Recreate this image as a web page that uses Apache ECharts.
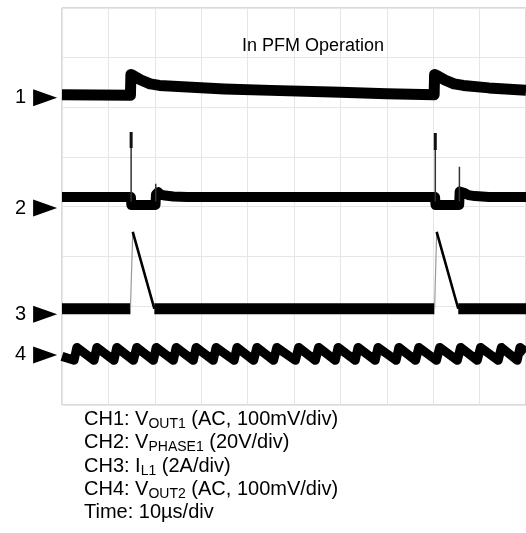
<!DOCTYPE html>
<html><head><meta charset="utf-8">
<script src="https://cdn.jsdelivr.net/npm/echarts@6/dist/echarts.min.js"></script>
<style>html,body{margin:0;padding:0;background:#fff}#c{width:526px;height:533px}</style>
</head><body><div id="c"></div>
<script>
// Time in µs (10 µs/div); level in screen divisions (0 = bottom, 8 = top)
const xTicks = [0, 100, 10];
const yTicks = [0, 8, 1];

const ch1Time  = [0, 14.75, 14.85, 15.5, 17, 19, 21, 25, 35, 45, 60, 70, 80.2, 80.3, 81, 82.5, 84.5, 86.5, 92, 100];
const ch1Level = [6.25, 6.24, 6.66, 6.63, 6.55, 6.47, 6.44, 6.42, 6.37, 6.34, 6.30, 6.27, 6.25, 6.66, 6.63, 6.55, 6.47, 6.44, 6.39, 6.34];

const ch2Time  = [0, 14.85, 14.95, 20.15, 20.25, 20.7, 21.3, 22.2, 24, 27, 80.4, 80.5, 85.6, 85.7, 86.1, 86.8, 87.6, 89, 92, 100];
const ch2Level = [4.19, 4.19, 4.03, 4.03, 4.24, 4.29, 4.24, 4.22, 4.20, 4.19, 4.19, 4.03, 4.03, 4.30, 4.34, 4.27, 4.23, 4.21, 4.19, 4.19];
const ch2SpikeTime = [14.9, 20.2, 80.45, 85.65];
const ch2SpikeBase = [4.10, 4.10, 4.10, 4.10];
const ch2SpikeTop  = [5.50, 4.46, 5.48, 4.80];
const ch2HeadTime   = [14.9, 80.45];
const ch2HeadBottom = [5.18, 5.14];
const ch2HeadTop    = [5.50, 5.48];

const ch3BaseTime  = [0, 14.75, 14.75, 19.9, 80.25, 80.25, 85.4, 100];
const ch3BaseLevel = [1.94, 1.94, null, 1.94, 1.94, null, 1.94, 1.94];
const ch3RiseTime  = [14.75, 15.25, 15.25, 80.3, 80.75];
const ch3RiseLevel = [1.94, 3.49, null, 1.94, 3.49];
const ch3FallTime  = [15.25, 19.9, 19.9, 80.75, 85.4];
const ch3FallLevel = [3.49, 1.94, null, 3.49, 1.94];

const ch4Time = [0, 2.6, 3.2, 6.9, 7.5, 11.2, 11.8, 15.4, 16.1, 19.7, 20.3, 24.0, 24.6, 28.3, 28.9, 32.6, 33.2,
  37.1, 37.7, 41.3, 42.0, 45.6, 46.3, 50.3, 51.0, 54.6, 55.3, 58.9, 59.5, 63.2, 63.8, 67.5, 68.1,
  72.0, 72.6, 76.2, 76.9, 80.7, 81.4, 85.2, 85.9, 89.5, 90.2, 94.0, 94.7, 98.1, 98.7, 100];
const ch4Level = [0.98, 0.90, 1.16, 0.90, 1.16, 0.90, 1.16, 0.90, 1.16, 0.90, 1.16, 0.90, 1.16, 0.90, 1.16, 0.90, 1.16,
  0.90, 1.16, 0.90, 1.16, 0.90, 1.16, 0.90, 1.16, 0.90, 1.16, 0.90, 1.16, 0.90, 1.16, 0.90, 1.16,
  0.90, 1.16, 0.90, 1.16, 0.90, 1.16, 0.90, 1.16, 0.90, 1.16, 0.90, 1.16, 0.90, 1.16, 1.07];

const markerLabel = ['1', '2', '3', '4'];
const markerLevel = [6.19, 3.97, 1.83, 1.01];
const markerTime = -3.64;

const annotation = 'In PFM Operation';
const legendHead = ['CH1: V', 'CH2: V', 'CH3: I', 'CH4: V'];
const legendSub  = ['OUT1', 'PHASE1', 'L1', 'OUT2'];
const legendTail = [' (AC, 100mV/div)', ' (20V/div)', ' (2A/div)', ' (AC, 100mV/div)'];
const timeLine = 'Time: 10µs/div';

const FONT = '"Liberation Sans", Arial, Helvetica, sans-serif';
const zip = (a, b) => a.map((v, i) => [v, b[i]]);

function spikes(t, lo, hi) {
  const out = [];
  t.forEach((v, i) => { out.push([v, lo[i]], [v, hi[i]], [v, null]); });
  return out;
}

const legendText = legendHead.map((h, i) => h + '{s|' + legendSub[i] + '}' + legendTail[i]).concat([timeLine]).join('\n');

const lineBase = { type: 'line', symbol: 'none', showSymbol: false, silent: true, animation: false, connectNulls: false };
const ls = (w, c) => ({ width: w, color: c, cap: 'butt', join: 'round', opacity: 1 });

const option = {
  animation: false,
  backgroundColor: '#fff',
  title: [
    { text: annotation, left: 242, top: 37, padding: 0,
      textStyle: { fontSize: 18, fontWeight: 'normal', color: '#000', fontFamily: FONT, lineHeight: 18 } },
    { text: legendText, left: 84, top: 408, padding: 0,
      textStyle: { fontSize: 20, fontWeight: 'normal', color: '#000', fontFamily: FONT, lineHeight: 23.25,
        rich: { s: { fontSize: 14, lineHeight: 8, verticalAlign: 'bottom', color: '#000', fontFamily: FONT } } } }
  ],
  grid: { left: 62, top: 8, width: 467, height: 397, show: true, borderColor: '#b4b4b4', borderWidth: 1, backgroundColor: '#fff' },
  xAxis: { type: 'value', min: xTicks[0], max: xTicks[1], interval: xTicks[2],
    axisLabel: { show: false }, axisTick: { show: false }, axisLine: { show: false },
    splitLine: { show: true, lineStyle: { color: '#e6e6e6', width: 1 } } },
  yAxis: { type: 'value', min: yTicks[0], max: yTicks[1], interval: yTicks[2],
    axisLabel: { show: false }, axisTick: { show: false }, axisLine: { show: false },
    splitLine: { show: true, lineStyle: { color: '#e6e6e6', width: 1 } } },
  series: [
    Object.assign({}, lineBase, { name: 'CH1', data: zip(ch1Time, ch1Level), lineStyle: ls(11, '#000') }),
    Object.assign({}, lineBase, { name: 'CH2', data: zip(ch2Time, ch2Level), lineStyle: ls(10, '#000') }),
    Object.assign({}, lineBase, { name: 'CH2 spikes', data: spikes(ch2SpikeTime, ch2SpikeBase, ch2SpikeTop), lineStyle: ls(1.5, '#333') }),
    Object.assign({}, lineBase, { name: 'CH2 heads', data: spikes(ch2HeadTime, ch2HeadBottom, ch2HeadTop), lineStyle: ls(3, '#111') }),
    Object.assign({}, lineBase, { name: 'CH3', data: zip(ch3BaseTime, ch3BaseLevel), lineStyle: ls(11, '#000') }),
    Object.assign({}, lineBase, { name: 'CH3 rise', data: zip(ch3RiseTime, ch3RiseLevel), lineStyle: ls(1.2, '#999') }),
    Object.assign({}, lineBase, { name: 'CH3 fall', data: zip(ch3FallTime, ch3FallLevel), lineStyle: ls(2.6, '#000') }),
    Object.assign({}, lineBase, { name: 'CH4', data: zip(ch4Time, ch4Level), lineStyle: ls(9, '#000') }),
    { type: 'scatter', name: 'markers', silent: true, animation: false, clip: false,
      symbol: 'path://M0,0 L24,8.5 L0,17 Z', symbolSize: [24, 17], symbolKeepAspect: false,
      itemStyle: { color: '#000', opacity: 1 },
      data: markerLevel.map((v, i) => [markerTime, v, markerLabel[i]]),
      label: { show: true, position: 'left', distance: 7, formatter: p => p.value[2],
        fontSize: 20, color: '#000', opacity: 1, fontFamily: FONT } }
  ]
};

const chart = echarts.init(document.getElementById('c'), null, { renderer: 'canvas' });
chart.setOption(option);
</script>
</body></html>
